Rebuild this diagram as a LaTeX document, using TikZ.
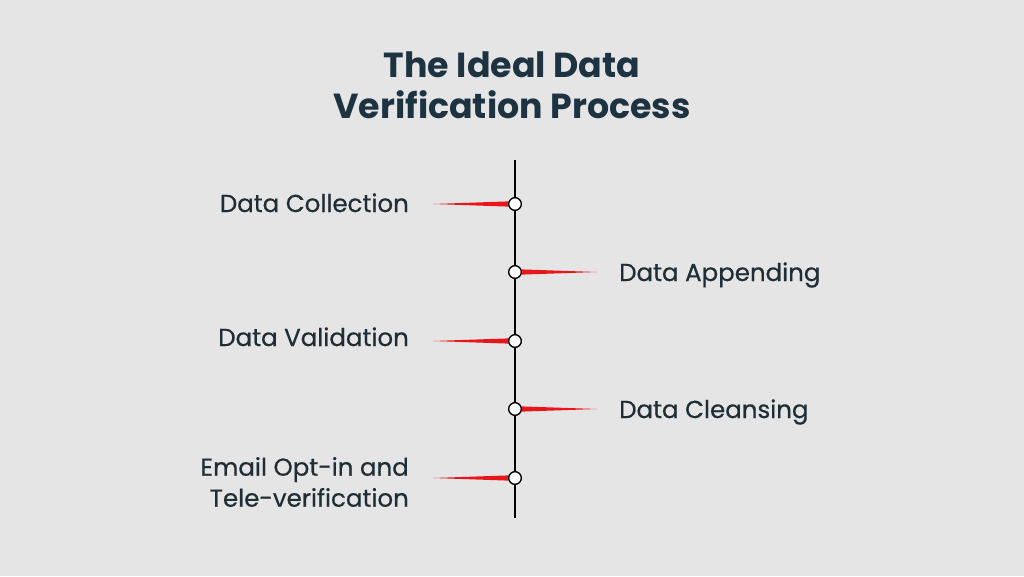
\documentclass[tikz,border=0pt]{standalone}
\usepackage{fontspec}
\setmainfont{Poppins}
\newfontfamily\medfont[FakeBold=0.6]{Poppins}
\definecolor{bgc}{HTML}{E5E5E5}
\definecolor{txt}{HTML}{1F2D36}
\definecolor{ttl}{HTML}{1E3342}
\definecolor{spk}{HTML}{E8161B}
\begin{document}
\begin{tikzpicture}[x=1pt,y=-1pt,
  lbl/.style={font=\medfont\fontsize{24.5}{31}\selectfont, text=txt, inner sep=0pt, align=right},
  lblr/.style={font=\medfont\fontsize{24.5}{31}\selectfont, text=txt, inner sep=0pt, align=left},
  dot/.style={circle, draw=black, line width=1.2pt, fill=white, minimum size=12.5pt, inner sep=0pt},
  spike/.style={fill=spk, draw=none}]
\fill[bgc] (0,0) rectangle (1024,576);
\useasboundingbox (0,0) rectangle (1024,576);
\node[font=\bfseries\fontsize{34.8}{41}\selectfont, text=ttl, align=center] (title) at (512,85) {The Ideal Data\\Verification Process};
\coordinate (top) at (515,160);
\coordinate (bot) at (515,518);
\draw[black, line width=2pt] (top) -- (bot);
\foreach \i/\y in {1/204,2/272,3/341,4/409,5/478}{
  \node[dot] (c\i) at (515,\y) {};
}
\foreach \i in {1,3,5}{
  \coordinate (s\i) at ([xshift=-82pt]c\i.center);
  \fill[spike] (s\i) -- ([yshift=-2.6pt]c\i.west) -- ([yshift=2.6pt]c\i.west) -- cycle;
}
\foreach \i in {2,4}{
  \coordinate (s\i) at ([xshift=82pt]c\i.center);
  \fill[spike] (s\i) -- ([yshift=-2.6pt]c\i.east) -- ([yshift=2.6pt]c\i.east) -- cycle;
}
\foreach \i in {1,...,5}{ \node[dot] at (c\i) {}; }
\node[lbl, anchor=base east] (l1) at (409,212) {Data Collection};
\node[lblr, anchor=base west] (l2) at (619,281) {Data Appending};
\node[lbl, anchor=base east] (l3) at (409,346) {Data Validation};
\node[lblr, anchor=base west] (l4) at (619,418) {Data Cleansing};
\node[lbl, anchor=east] (l5) at (409,482) {Email Opt-in and\\Tele-verification};
\end{tikzpicture}
\end{document}
